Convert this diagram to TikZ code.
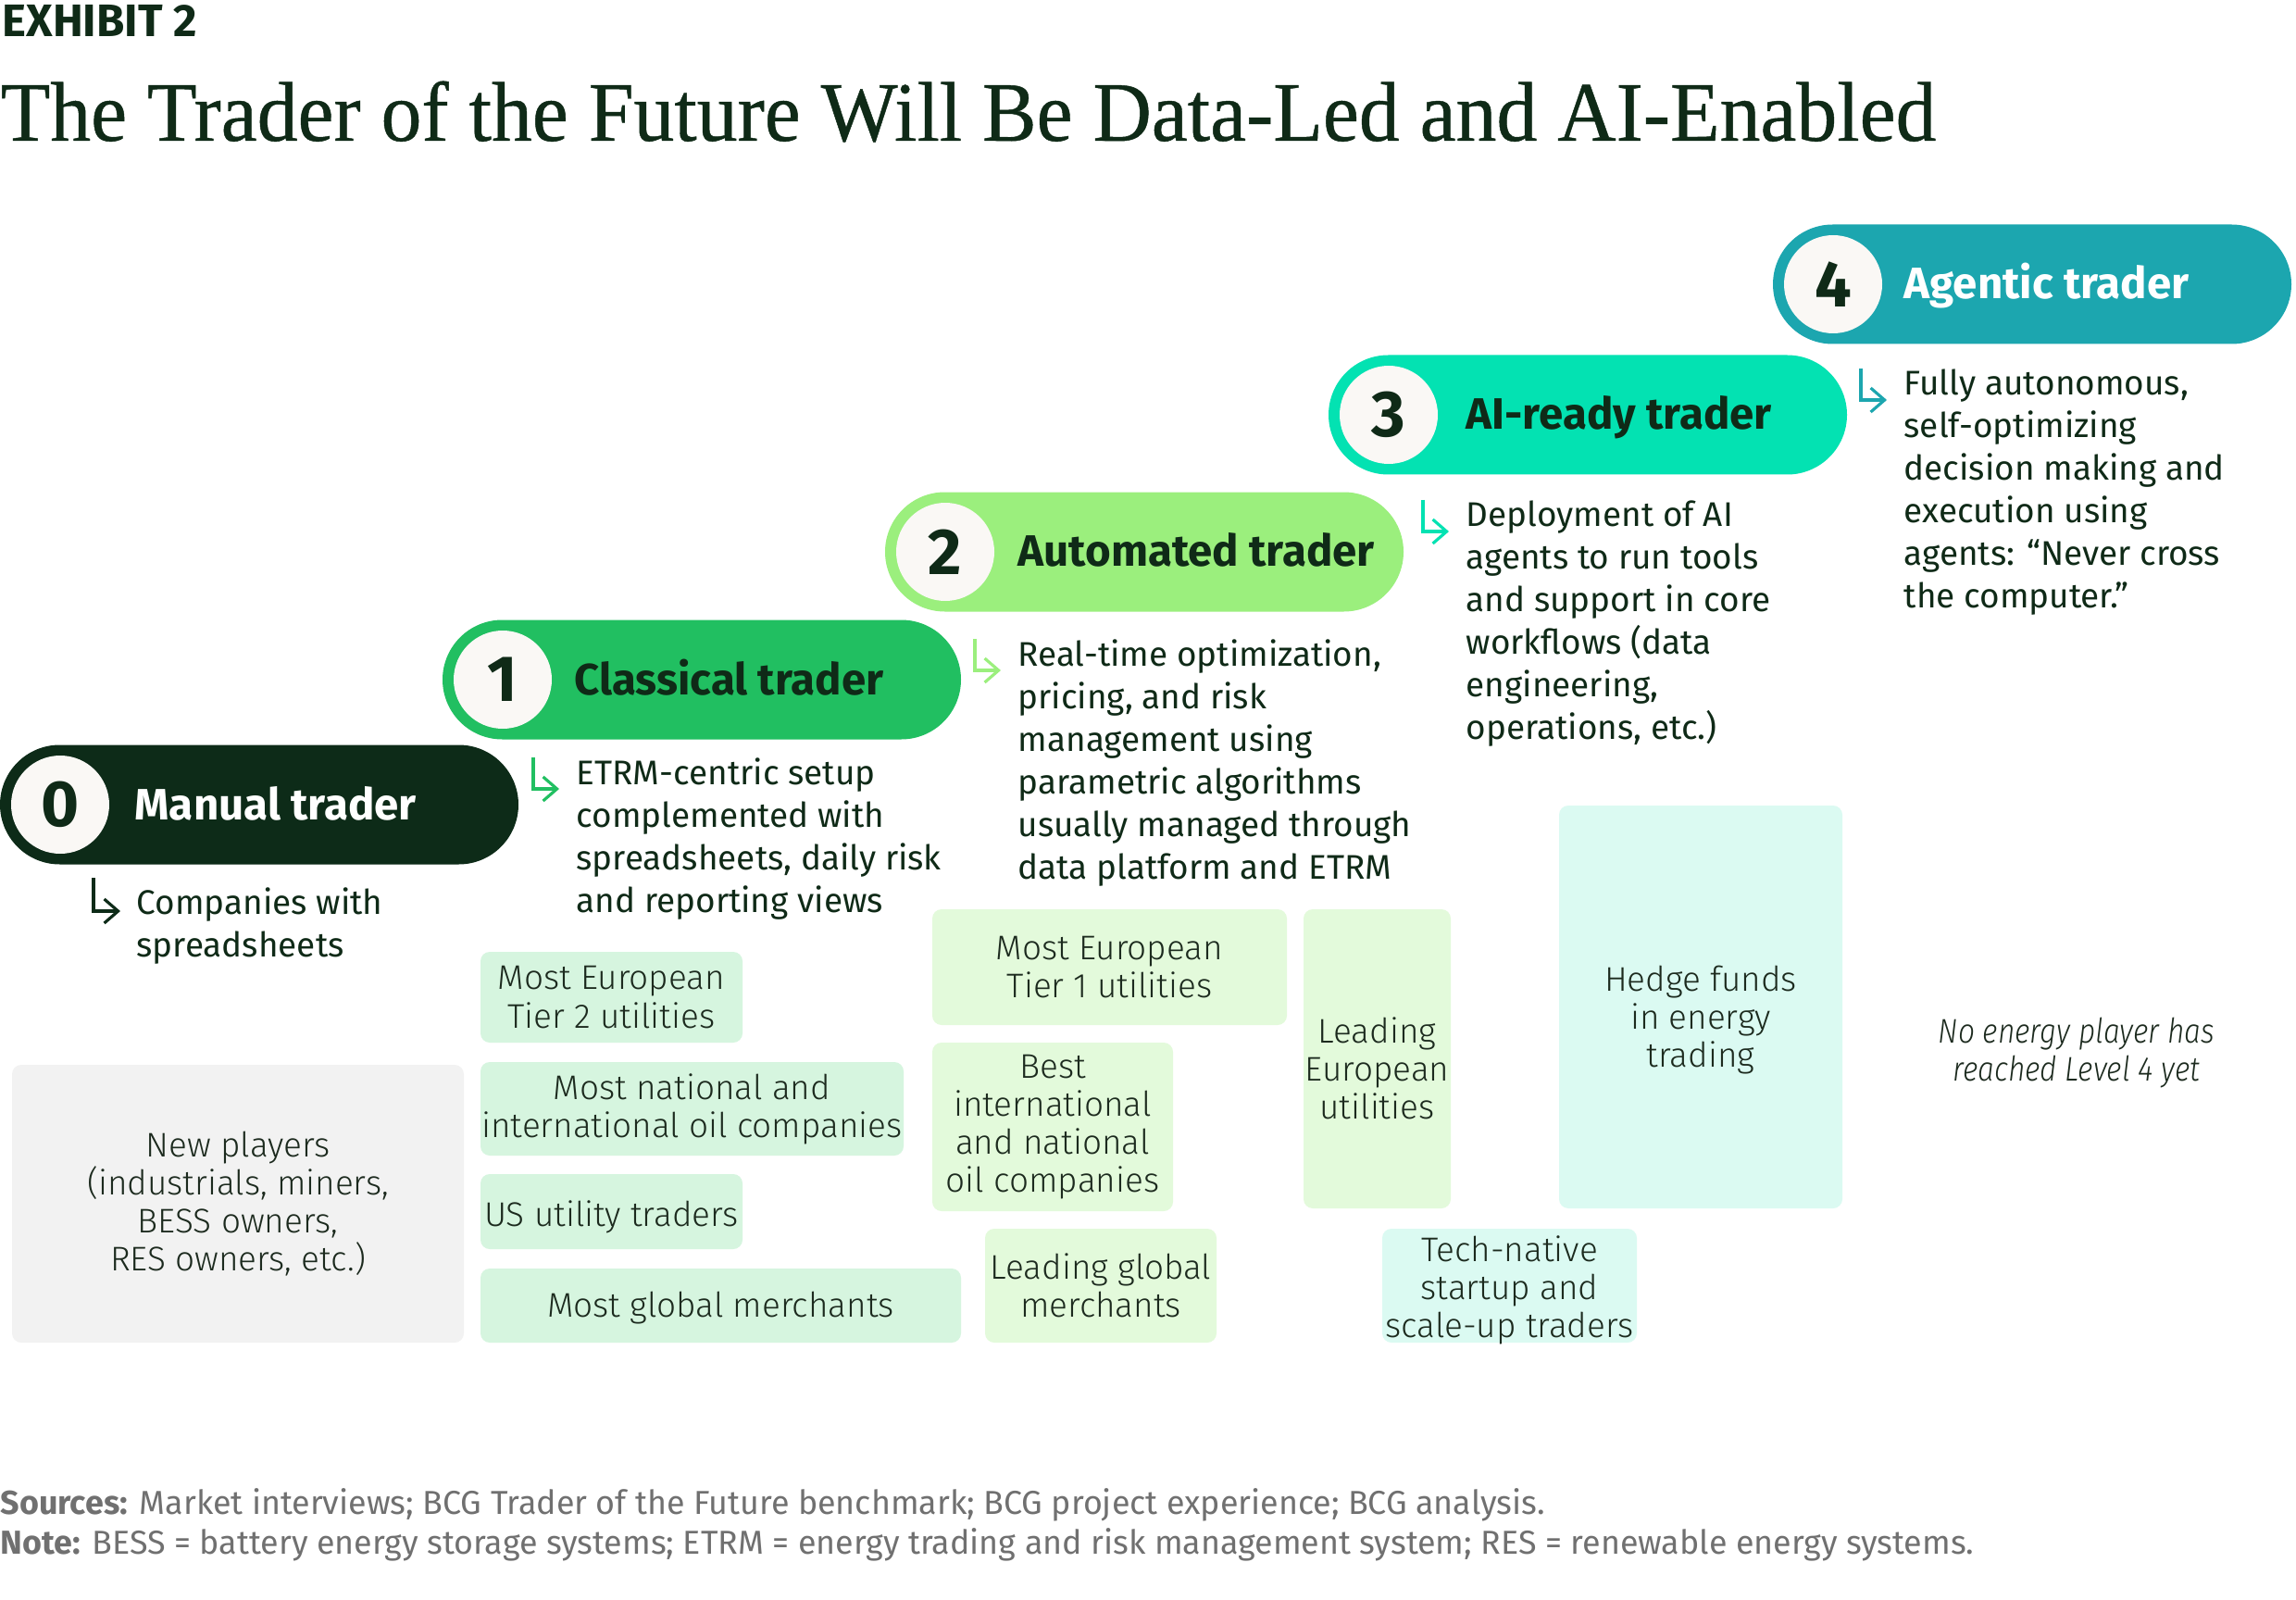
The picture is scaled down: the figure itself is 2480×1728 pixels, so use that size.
\documentclass[tikz,border=0pt]{standalone}
\usepackage{fontspec}
\setmainfont{Fira Sans}
\newfontfamily\titlefont[FakeStretch=0.96,FakeBold=0.5]{Liberation Serif}
\newfontfamily\lightfont{Fira Sans Light}
\newfontfamily\lightcond[FakeStretch=0.86]{Fira Sans Light}
\usetikzlibrary{arrows.meta}
\definecolor{ink}{HTML}{0F2A17}
\definecolor{c0}{HTML}{0D2B18}
\definecolor{c1}{HTML}{21BF61}
\definecolor{c2}{HTML}{9BEF7D}
\definecolor{c3}{HTML}{03E2B2}
\definecolor{c4}{HTML}{1CA6AF}
\definecolor{offwhite}{HTML}{FAF8F5}
\definecolor{b1}{HTML}{D6F5DF}
\definecolor{b2}{HTML}{E3FADB}
\definecolor{b3}{HTML}{DBFAF2}
\definecolor{bgrey}{HTML}{F2F2F2}
\definecolor{footgrey}{HTML}{707070}
\definecolor{boxink}{HTML}{1C2A1E}
\begin{document}
\begin{tikzpicture}[x=0.1mm,y=-0.1mm,
  pill/.style={rectangle, rounded corners=6.45mm, minimum width=56mm, minimum height=12.9mm, inner sep=0pt},
  numc/.style={circle, fill=offwhite, minimum size=10.6mm, inner sep=0pt, text=ink, font=\bfseries\fontsize{20}{20}\selectfont},
  ptitle/.style={anchor=base west, inner sep=0pt, font=\bfseries\fontsize{13.5}{16}\selectfont},
  desc/.style={anchor=north west, inner sep=0pt, align=left, text=ink, font=\fontsize{10.5}{13.1}\selectfont},
  hook/.style={line width=0.9pt, -{Straight Barb[length=1.5mm,width=2.6mm]}},
  boxfill/.style={rectangle, rounded corners=1mm, inner sep=0pt},
  boxtext/.style={inner sep=0pt, align=center, text=boxink, font=\lightfont\fontsize{10.5}{11.7}\selectfont},
  box/.style={boxfill, boxtext},
  foot/.style={anchor=base west, inner sep=0pt, text=footgrey, font=\fontsize{10.2}{11}\selectfont}
]
\useasboundingbox[fill=white] (0,0) rectangle (2480,1728);

% header
\node[anchor=base west, inner sep=0pt, text=ink, font=\bfseries\fontsize{14}{14}\selectfont] (exh) at (2,40) {EXHIBIT 2};
\node[anchor=base west, inner sep=0pt, text=ink, font=\titlefont\fontsize{26}{26}\selectfont] (title) at (0,152) {The Trader of the Future Will Be Data-Led and AI-Enabled};

% pills
\node[pill, fill=c0] (p0) at (280,869) {};
\node[numc] (n0) at (65,869) {0};
\node[ptitle, text=white] (t0) at (145,885) {Manual trader};

\node[pill, fill=c1] (p1) at (758,734) {};
\node[numc] (n1) at (543,734) {1};
\node[ptitle, text=ink] (t1) at (620,750) {Classical trader};

\node[pill, fill=c2] (p2) at (1236,596) {};
\node[numc] (n2) at (1021,596) {2};
\node[ptitle, text=ink] (t2) at (1099,612) {Automated trader};

\node[pill, fill=c3] (p3) at (1715,448) {};
\node[numc] (n3) at (1500,448) {3};
\node[ptitle, text=ink] (t3) at (1583,464) {AI-ready trader};

\node[pill, fill=c4] (p4) at (2195,307) {};
\node[numc] (n4) at (1980,307) {4};
\node[ptitle, text=white] (t4) at (2056,323) {Agentic trader};

% descriptions
\node[desc] (d0) at (147,958) {Companies with\\spreadsheets};
\draw[hook, draw=c0] ([xshift=-4.6mm,yshift=1mm]d0.north west) -- ++(0,36) -- ++(29,0);

\node[desc] (d1) at (622,818) {ETRM-centric setup\\complemented with\\spreadsheets, daily risk\\and reporting views};
\draw[hook, draw=c1] ([xshift=-4.6mm]d1.north west) -- ++(0,34) -- ++(28,0);

\node[desc] (d2) at (1099,690) {Real-time optimization,\\pricing, and risk\\management using\\parametric algorithms\\usually managed through\\data platform and ETRM};
\draw[hook, draw=c2] ([xshift=-4.6mm]d2.north west) -- ++(0,34) -- ++(28,0);

\node[desc] (d3) at (1583,540) {Deployment of AI\\agents to run tools\\and support in core\\workflows (data\\engineering,\\operations, etc.)};
\draw[hook, draw=c3] ([xshift=-4.6mm]d3.north west) -- ++(0,34) -- ++(28,0);

\node[desc] (d4) at (2056,398) {Fully autonomous,\\self-optimizing\\decision making and\\execution using\\agents: “Never cross\\the computer.”};
\draw[hook, draw=c4] ([xshift=-4.6mm]d4.north west) -- ++(0,34) -- ++(28,0);

% boxes
\node[box, fill=bgrey, minimum width=48.8mm, minimum height=30mm] (bnew) at (257,1300) {New players\\(industrials, miners,\\BESS owners,\\RES owners, etc.)};
\node[box, fill=b1, minimum width=28.3mm, minimum height=9.8mm] (bt2) at (660.5,1077) {Most European\\Tier 2 utilities};
\node[box, fill=b1, minimum width=45.7mm, minimum height=10.1mm] (boil) at (747.5,1197.5) {Most national and\\international oil companies};
\node[boxfill, fill=b1, minimum width=28.3mm, minimum height=8.1mm] (bus) at (660.5,1308.5) {};
\node[boxtext] (tus) at ([yshift=-0.6mm]bus.center) {US utility traders};
\node[boxfill, fill=b1, minimum width=51.9mm, minimum height=8mm] (bmgm) at (778.5,1410) {};
\node[boxtext] (tmgm) at ([yshift=-0.3mm]bmgm.center) {Most global merchants};
\node[box, fill=b2, minimum width=38.3mm, minimum height=12.5mm] (bt1) at (1198.5,1044.5) {Most European\\Tier 1 utilities};
\node[box, fill=b2, minimum width=26mm, minimum height=18.2mm] (bbest) at (1137,1217) {Best\\international\\and national\\oil companies};
\node[box, fill=b2, minimum width=25mm, minimum height=12.3mm] (blgm) at (1189,1388.5) {Leading global\\merchants};
\node[boxfill, fill=b2, minimum width=15.9mm, minimum height=32.3mm] (bleu) at (1487.5,1143.5) {};
\node[boxtext] (tleu) at ([yshift=-1mm]bleu.center) {Leading\\European\\utilities};
\node[boxfill, fill=b3, minimum width=27.5mm, minimum height=12.3mm] (btech) at (1630.5,1388.5) {};
\node[boxtext] (ttech) at ([yshift=-0.5mm]btech.center) {Tech-native\\startup and\\scale-up traders};
\node[boxfill, fill=b3, minimum width=30.6mm, minimum height=43.5mm] (bhedge) at (1837,1087.5) {};
\node[boxtext] (thedge) at ([yshift=-1.4mm]bhedge.center) {Hedge funds\\in energy\\trading};
\node[inner sep=0pt, align=center, text=boxink, font=\lightcond\itshape\fontsize{10.5}{11.7}\selectfont] (nolvl) at (2243,1137) {No energy player has\\reached Level 4 yet};

% footnotes
\node[foot] (src) at (0,1635) {\textbf{Sources:} Market interviews; BCG Trader of the Future benchmark; BCG project experience; BCG analysis.};
\node[foot] (note) at (0,1678) {\textbf{Note:} BESS = battery energy storage systems; ETRM = energy trading and risk management system; RES = renewable energy systems.};
\end{tikzpicture}
\end{document}
